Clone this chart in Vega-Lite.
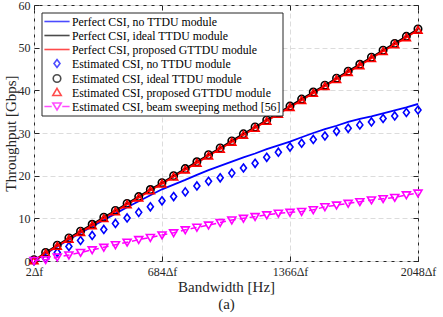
{
  "$schema": "https://vega.github.io/schema/vega-lite/v6.json",
  "width": 384,
  "height": 256,
  "autosize": {"type": "none"},
  "padding": {"left": 34, "top": 5, "right": 25, "bottom": 56},
  "background": "white",
  "config": {
    "view": {"stroke": "#262626", "strokeWidth": 1},
    "font": "Liberation Serif",
    "axis": {
      "domain": false,
      "gridColor": "#dcdcdc",
      "gridDash": [5, 3],
      "gridWidth": 1,
      "tickColor": "#262626",
      "tickSize": -5,
      "labelFont": "Liberation Serif",
      "labelFontSize": 12,
      "labelColor": "#262626",
      "labelFlush": false,
      "labelOverlap": false,
      "titleFont": "Liberation Serif",
      "titleFontSize": 15,
      "titleFontWeight": "normal",
      "titleColor": "#262626"
    },
    "legend": {
      "orient": "none",
      "legendX": 7.5,
      "legendY": 7.5,
      "strokeColor": "#262626",
      "fillColor": "white",
      "padding": 2,
      "rowPadding": -2,
      "symbolSize": 144,
      "symbolStrokeWidth": 1.6,
      "symbolOffset": 6.5,
      "labelOffset": 8,
      "labelFont": "Liberation Serif",
      "labelFontSize": 11.8,
      "labelColor": "#000000",
      "labelLimit": 400
    }
  },
  "data": {
    "values": [
      {"x": 2, "pn": 0, "pi": 0.1, "pp": 0.05, "en": 0, "ei": 0.3, "ep": 0.05, "eb": 0.1},
      {"x": 64, "pn": 1.7, "pi": 2.0, "pp": 1.8, "en": 0.6, "ei": 2.0, "ep": 1.75, "eb": 0.3},
      {"x": 126, "pn": 3.4, "pi": 3.7, "pp": 3.5, "en": 2.0, "ei": 3.7, "ep": 3.45, "eb": 0.9},
      {"x": 188, "pn": 5.0, "pi": 5.4, "pp": 5.15, "en": 3.4, "ei": 5.4, "ep": 5.1, "eb": 1.4},
      {"x": 250, "pn": 6.6, "pi": 7.0, "pp": 6.75, "en": 4.8, "ei": 7.0, "ep": 6.7, "eb": 2.0},
      {"x": 312, "pn": 8.1, "pi": 8.6, "pp": 8.35, "en": 6.0, "ei": 8.6, "ep": 8.3, "eb": 2.6},
      {"x": 374, "pn": 9.6, "pi": 10.25, "pp": 10.0, "en": 7.4, "ei": 10.25, "ep": 9.95, "eb": 3.2},
      {"x": 436, "pn": 11.1, "pi": 11.85, "pp": 11.6, "en": 8.8, "ei": 11.85, "ep": 11.55, "eb": 3.8},
      {"x": 498, "pn": 12.6, "pi": 13.5, "pp": 13.25, "en": 10.1, "ei": 13.5, "ep": 13.2, "eb": 4.4},
      {"x": 560, "pn": 14.0, "pi": 15.1, "pp": 14.85, "en": 11.4, "ei": 15.1, "ep": 14.8, "eb": 5.0},
      {"x": 622, "pn": 15.4, "pi": 16.75, "pp": 16.5, "en": 12.7, "ei": 16.75, "ep": 16.45, "eb": 5.5},
      {"x": 684, "pn": 16.8, "pi": 18.35, "pp": 18.1, "en": 14.1, "ei": 18.35, "ep": 18.05, "eb": 6.1},
      {"x": 746, "pn": 17.9, "pi": 20.0, "pp": 19.75, "en": 15.1, "ei": 20.0, "ep": 19.7, "eb": 6.6},
      {"x": 808, "pn": 19.0, "pi": 21.65, "pp": 21.4, "en": 16.2, "ei": 21.65, "ep": 21.35, "eb": 7.3},
      {"x": 870, "pn": 20.2, "pi": 23.25, "pp": 23.0, "en": 17.6, "ei": 23.25, "ep": 22.95, "eb": 7.9},
      {"x": 932, "pn": 21.3, "pi": 24.9, "pp": 24.65, "en": 18.7, "ei": 24.9, "ep": 24.6, "eb": 8.4},
      {"x": 994, "pn": 22.3, "pi": 26.5, "pp": 26.25, "en": 19.5, "ei": 26.5, "ep": 26.2, "eb": 9.0},
      {"x": 1056, "pn": 23.3, "pi": 28.15, "pp": 27.9, "en": 20.6, "ei": 28.15, "ep": 27.85, "eb": 9.6},
      {"x": 1118, "pn": 24.3, "pi": 29.8, "pp": 29.55, "en": 21.8, "ei": 29.8, "ep": 29.5, "eb": 10.0},
      {"x": 1180, "pn": 25.2, "pi": 31.4, "pp": 31.15, "en": 22.9, "ei": 31.4, "ep": 31.1, "eb": 10.4},
      {"x": 1242, "pn": 26.2, "pi": 33.05, "pp": 32.8, "en": 24.3, "ei": 33.05, "ep": 32.75, "eb": 10.8},
      {"x": 1304, "pn": 27.1, "pi": 34.7, "pp": 34.45, "en": 25.5, "ei": 34.7, "ep": 34.4, "eb": 11.2},
      {"x": 1366, "pn": 28.0, "pi": 36.3, "pp": 36.05, "en": 26.7, "ei": 36.3, "ep": 36.0, "eb": 11.4},
      {"x": 1428, "pn": 29.0, "pi": 37.95, "pp": 37.7, "en": 27.6, "ei": 37.95, "ep": 37.65, "eb": 11.6},
      {"x": 1490, "pn": 30.0, "pi": 39.6, "pp": 39.35, "en": 28.5, "ei": 39.6, "ep": 39.3, "eb": 12.0},
      {"x": 1552, "pn": 30.9, "pi": 41.2, "pp": 40.95, "en": 29.3, "ei": 41.2, "ep": 40.9, "eb": 12.7},
      {"x": 1614, "pn": 31.7, "pi": 42.85, "pp": 42.6, "en": 30.4, "ei": 42.85, "ep": 42.55, "eb": 13.1},
      {"x": 1676, "pn": 32.6, "pi": 44.5, "pp": 44.25, "en": 31.1, "ei": 44.5, "ep": 44.2, "eb": 13.5},
      {"x": 1738, "pn": 33.3, "pi": 46.1, "pp": 45.85, "en": 31.9, "ei": 46.1, "ep": 45.8, "eb": 13.9},
      {"x": 1800, "pn": 33.9, "pi": 47.75, "pp": 47.5, "en": 32.6, "ei": 47.75, "ep": 47.45, "eb": 14.3},
      {"x": 1862, "pn": 34.6, "pi": 49.4, "pp": 49.15, "en": 33.4, "ei": 49.4, "ep": 49.1, "eb": 14.6},
      {"x": 1924, "pn": 35.3, "pi": 51.0, "pp": 50.75, "en": 34.0, "ei": 51.0, "ep": 50.7, "eb": 14.9},
      {"x": 1986, "pn": 36.0, "pi": 52.65, "pp": 52.4, "en": 34.8, "ei": 52.65, "ep": 52.35, "eb": 15.5},
      {"x": 2048, "pn": 36.8, "pi": 54.4, "pp": 54.15, "en": 35.4, "ei": 54.4, "ep": 54.1, "eb": 15.9}
    ]
  },
  "resolve": {"axis": {"x": "independent", "y": "independent"}},
  "layer": [
    {
      "mark": {"type": "line", "color": "#0000ff", "strokeWidth": 1.8, "clip": true},
      "encoding": {
        "x": {"field": "x", "type": "quantitative",
              "scale": {"domain": [2, 2048], "nice": false, "zero": false},
              "axis": {"orient": "bottom", "values": [2, 684, 1366, 2048], "labelExpr": "datum.value + 'Δf'",
                       "grid": true, "labelPadding": 10.5, "title": ["Bandwidth [Hz]", "(a)"], "titleLineHeight": 17.4, "titlePadding": 2}},
        "y": {"field": "pn", "type": "quantitative",
              "scale": {"domain": [0, 60], "nice": false, "zero": false},
              "axis": {"orient": "left", "values": [0, 10, 20, 30, 40, 50, 60], "grid": true, "labelPadding": 9,
                       "title": "Throughput [Gbps]", "titlePadding": 0}}
      }
    },
    {
      "mark": {"type": "line", "color": "#000000", "strokeWidth": 1.8, "clip": true},
      "encoding": {
        "x": {"field": "x", "type": "quantitative",
              "axis": {"orient": "top", "values": [2, 684, 1366, 2048], "labels": false, "grid": false, "title": null}},
        "y": {"field": "pi", "type": "quantitative",
              "axis": {"orient": "right", "values": [0, 10, 20, 30, 40, 50, 60], "labels": false, "grid": false, "title": null}}
      }
    },
    {
      "mark": {"type": "line", "color": "#ff0000", "strokeWidth": 1.8, "clip": true},
      "encoding": {
        "x": {"field": "x", "type": "quantitative", "axis": null},
        "y": {"field": "pp", "type": "quantitative", "axis": null}
      }
    },
    {
      "mark": {"type": "point", "filled": false, "color": "#0000ff", "strokeWidth": 1.6, "size": 64,
               "shape": "M0,-1L0.75,0L0,1L-0.75,0Z", "opacity": 1},
      "encoding": {
        "x": {"field": "x", "type": "quantitative", "axis": null},
        "y": {"field": "en", "type": "quantitative", "axis": null}
      }
    },
    {
      "mark": {"type": "point", "filled": false, "color": "#000000", "strokeWidth": 1.6, "size": 55, "shape": "circle", "opacity": 1},
      "encoding": {
        "x": {"field": "x", "type": "quantitative", "axis": null},
        "y": {"field": "ei", "type": "quantitative", "axis": null}
      }
    },
    {
      "mark": {"type": "point", "filled": false, "color": "#ff0000", "strokeWidth": 1.6, "size": 64,
               "shape": "M0,-0.95L1,0.75L-1,0.75Z", "opacity": 1},
      "encoding": {
        "x": {"field": "x", "type": "quantitative", "axis": null},
        "y": {"field": "ep", "type": "quantitative", "axis": null}
      }
    },
    {
      "mark": {"type": "line", "color": "#ff00ff", "strokeWidth": 1.5, "strokeDash": [6, 4], "clip": true},
      "encoding": {
        "x": {"field": "x", "type": "quantitative", "axis": null},
        "y": {"field": "eb", "type": "quantitative", "axis": null}
      }
    },
    {
      "mark": {"type": "point", "filled": false, "color": "#ff00ff", "strokeWidth": 1.6, "size": 64,
               "shape": "M0,0.95L1,-0.75L-1,-0.75Z", "opacity": 1},
      "encoding": {
        "x": {"field": "x", "type": "quantitative", "axis": null},
        "y": {"field": "eb", "type": "quantitative", "axis": null}
      }
    },
    {
      "data": {
        "values": [
          {"s": "Perfect CSI, no TTDU module"},
          {"s": "Perfect CSI, ideal TTDU module"},
          {"s": "Perfect CSI, proposed GTTDU module"},
          {"s": "Estimated CSI, no TTDU module"},
          {"s": "Estimated CSI, ideal TTDU module"},
          {"s": "Estimated CSI, proposed GTTDU module"},
          {"s": "Estimated CSI, beam sweeping method [56]"}
        ]
      },
      "transform": [{"filter": "false"}],
      "mark": {"type": "point", "filled": false, "strokeWidth": 1.6},
      "encoding": {
        "color": {
          "field": "s", "type": "nominal",
          "scale": {
            "domain": ["Perfect CSI, no TTDU module", "Perfect CSI, ideal TTDU module", "Perfect CSI, proposed GTTDU module",
                       "Estimated CSI, no TTDU module", "Estimated CSI, ideal TTDU module", "Estimated CSI, proposed GTTDU module",
                       "Estimated CSI, beam sweeping method [56]"],
            "range": ["#0000ff", "#000000", "#ff0000", "#0000ff", "#000000", "#ff0000", "#ff00ff"]
          },
          "legend": {"title": null}
        },
        "shape": {
          "field": "s", "type": "nominal",
          "scale": {
            "domain": ["Perfect CSI, no TTDU module", "Perfect CSI, ideal TTDU module", "Perfect CSI, proposed GTTDU module",
                       "Estimated CSI, no TTDU module", "Estimated CSI, ideal TTDU module", "Estimated CSI, proposed GTTDU module",
                       "Estimated CSI, beam sweeping method [56]"],
            "range": ["M-2.1,0H2.1", "M-2.1,0H2.1", "M-2.1,0H2.1",
                      "M0,-0.67L0.5,0L0,0.67L-0.5,0Z",
                      "M0.63,0A0.63,0.63,0,1,1,-0.63,0A0.63,0.63,0,1,1,0.63,0Z",
                      "M0,-0.7L0.7,0.49L-0.7,0.49Z",
                      "M-2.1,0H-0.875M0.875,0H2.1M0,0.58L0.7,-0.58L-0.7,-0.58Z"]
          },
          "legend": {"title": null}
        }
      }
    }
  ]
}
